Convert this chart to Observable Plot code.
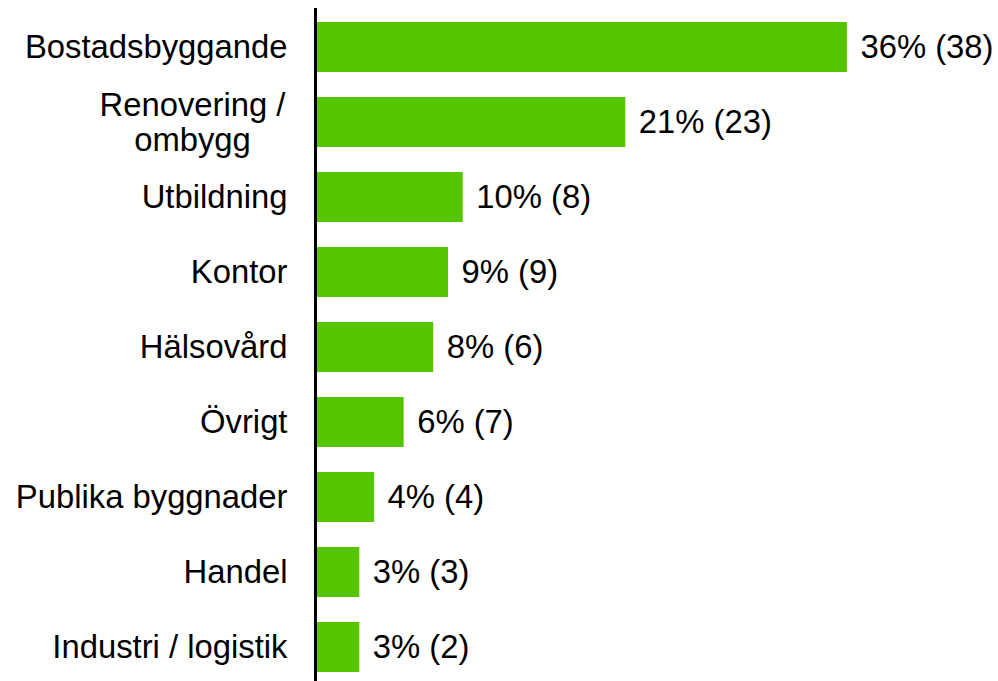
<!DOCTYPE html>
<html>
<head>
<meta charset="utf-8">
<script src="https://cdn.jsdelivr.net/npm/d3@7"></script>
<script src="https://cdn.jsdelivr.net/npm/@observablehq/plot@0.6"></script>
<style>
  body { margin: 0; background: #fff; }
  #chart svg { display: block; }
</style>
</head>
<body>
<div id="chart"></div>
<script>
const categories = ["Bostadsbyggande", "Renovering /\nombygg", "Utbildning", "Kontor", "Hälsovård", "Övrigt", "Publika byggnader", "Handel", "Industri / logistik"];
const percents = [36, 21, 10, 9, 8, 6, 4, 3, 3];
const counts = [38, 23, 8, 9, 6, 7, 4, 3, 2];

const data = categories.map((c, i) => ({cat: c, pct: percents[i], n: counts[i]}));
const single = data.filter(d => !d.cat.includes("\n"));
const multi = data.filter(d => d.cat.includes("\n"));

const font = "'Liberation Sans', Arial, Helvetica, sans-serif";

const chart = Plot.plot({
  width: 998,
  height: 681,
  marginLeft: 315,
  marginRight: 92,
  marginTop: 13,
  marginBottom: 1,
  style: {fontFamily: font, background: "#fff", color: "#000"},
  x: {domain: [0, 40], axis: null},
  y: {domain: categories, paddingInner: 0.334, paddingOuter: 0.1, axis: null},
  marks: [
    Plot.barX(data, {x: "pct", y: "cat", fill: "#55c500"}),
    Plot.ruleX([0], {stroke: "#000", strokeWidth: 3, insetTop: -5, insetBottom: -3}),
    Plot.text(data, {x: "pct", y: "cat", text: d => `${d.pct}% (${d.n})`, textAnchor: "start", dx: 13, fontSize: 32.8, fill: "#000"}),
    Plot.text(single, {x: 0, y: "cat", text: "cat", textAnchor: "end", dx: -28, fontSize: 32.8, fill: "#000"}),
    Plot.text(multi, {x: 0, y: "cat", text: "cat", textAnchor: "middle", dx: -123, fontSize: 32.8, lineHeight: 1.07, fill: "#000"})
  ]
});
document.getElementById("chart").appendChild(chart);
</script>
</body>
</html>
